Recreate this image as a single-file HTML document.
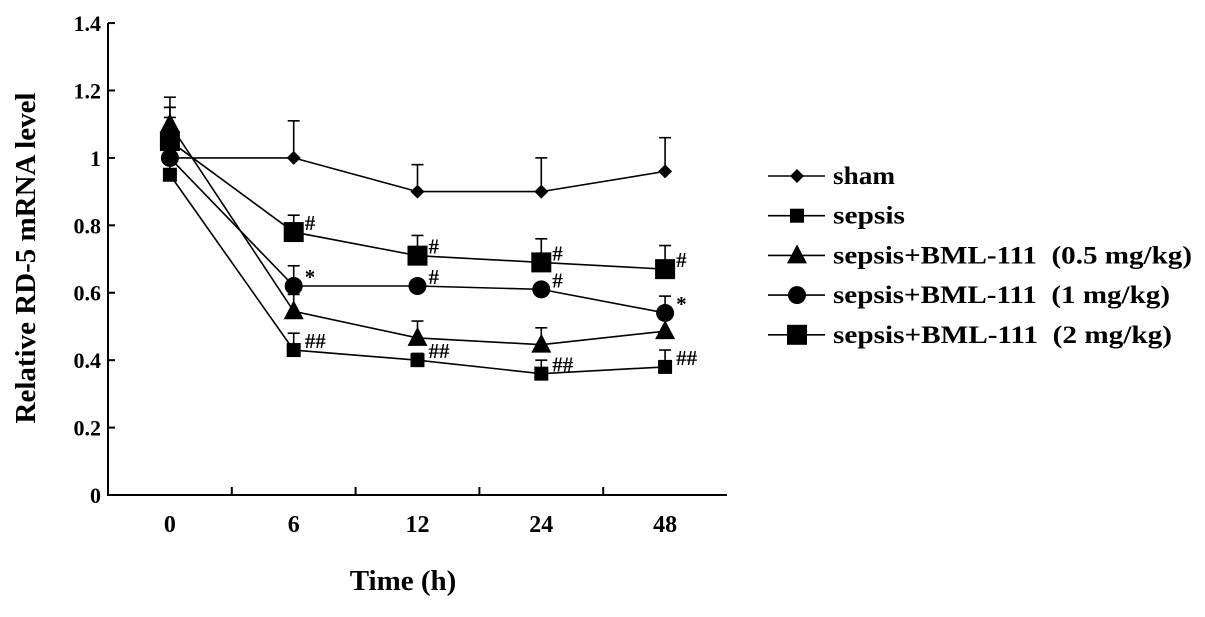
<!DOCTYPE html>
<html><head><meta charset="utf-8"><style>
body{margin:0;background:#fff;width:1205px;height:612px;overflow:hidden}
svg text{font-family:"Liberation Serif",serif;font-weight:bold;fill:#000}
</style></head><body>
<svg id="chart" width="1205" height="612" viewBox="0 0 1205 612" xmlns="http://www.w3.org/2000/svg"></svg>
<script>
const categories=["0","6","12","24","48"];
const yTicks=[0,0.2,0.4,0.6,0.8,1,1.2,1.4];
const seriesNames=["sham","sepsis","sepsis+BML-111  (0.5 mg/kg)","sepsis+BML-111  (1 mg/kg)","sepsis+BML-111  (2 mg/kg)"];
const shamVals=[1.0,1.0,0.90,0.90,0.96];
const shamErr=[0.18,0.11,0.08,0.10,0.10];
const sepsisVals=[0.95,0.43,0.40,0.36,0.38];
const sepsisErr=[0.05,0.05,0.02,0.04,0.05];
const bml05Vals=[1.10,0.545,0.466,0.446,0.486];
const bml05Err=[0.05,0.05,0.05,0.05,0];
const bml1Vals=[1.0,0.62,0.62,0.61,0.54];
const bml1Err=[0.12,0.06,0,0,0.05];
const bml2Vals=[1.05,0.78,0.71,0.69,0.67];
const bml2Err=[0.10,0.05,0.06,0.07,0.07];
const sepsisMarks=["","##","##","##","##"];
const bml1Marks=["","*","#","#","*"];
const bml2Marks=["","#","#","#","#"];
const series=[
 {vals:shamVals,err:shamErr,m:"diamond",marks:null},
 {vals:sepsisVals,err:sepsisErr,m:"smallsq",marks:sepsisMarks},
 {vals:bml05Vals,err:bml05Err,m:"tri",marks:null},
 {vals:bml1Vals,err:bml1Err,m:"circle",marks:bml1Marks},
 {vals:bml2Vals,err:bml2Err,m:"bigsq",marks:bml2Marks}];
const svg=document.getElementById('chart');
const NS="http://www.w3.org/2000/svg";
const X0=108,X1=727,Y0=495,YS=337.1;
const bw=(X1-X0)/categories.length;
const xs=i=>X0+bw*(i+0.5);
const ys=v=>Y0-v*YS;
function el(t,a,p){const e=document.createElementNS(NS,t);for(const k in a)e.setAttribute(k,a[k]);(p||svg).appendChild(e);return e;}
function marker(type,x,y,g){
 if(type==="diamond")return el('polygon',{points:`${x},${y-7} ${x+7},${y} ${x},${y+7} ${x-7},${y}`},g);
 if(type==="smallsq")return el('rect',{x:x-7,y:y-7,width:14,height:14},g);
 if(type==="bigsq")return el('rect',{x:x-10,y:y-10,width:20,height:20},g);
 if(type==="tri")return el('polygon',{points:`${x},${y-11} ${x+10},${y+8} ${x-10},${y+8}`},g);
 return el('circle',{cx:x,cy:y,r:9},g);
}
const ax=el('path',{d:`M${X0},${ys(1.4)}V${Y0}H${X1}`,stroke:'#000','stroke-width':2,fill:'none'});


yTicks.forEach(t=>{
 el('line',{x1:X0,x2:X0+7,y1:ys(t),y2:ys(t),stroke:'#000','stroke-width':2});
 const tx=el('text',{x:101,y:ys(t)+8,'text-anchor':'end','font-size':22});
 tx.textContent=String(t);
 
 
});
for(let i=1;i<categories.length;i++)el('line',{x1:X0+bw*i,x2:X0+bw*i,y1:Y0,y2:Y0-8,stroke:'#000','stroke-width':2});
categories.forEach((c,i)=>{
 const tx=el('text',{x:xs(i),y:532,'text-anchor':'middle','font-size':24});
 tx.textContent=c;
 
 
});
series.forEach((s,si)=>{
 const g=el('g',{fill:'#000',stroke:'#000'});
 
 
 el('polyline',{points:s.vals.map((v,i)=>xs(i)+','+ys(v)).join(' '),fill:'none','stroke-width':1.6},g);
 s.vals.forEach((v,i)=>{
  if(s.err[i]>0){
   el('line',{x1:xs(i),x2:xs(i),y1:ys(v),y2:ys(v+s.err[i]),'stroke-width':1.6},g);
   el('line',{x1:xs(i)-6,x2:xs(i)+6,y1:ys(v+s.err[i]),y2:ys(v+s.err[i]),'stroke-width':1.6},g);
  }
  const m=marker(s.m,xs(i),ys(v),g);m.setAttribute('stroke','none');
  if(s.marks&&s.marks[i]){
   const t=el('text',{x:xs(i)+11,y:ys(v)-2,'font-size':21,stroke:'none'},g);
   t.textContent=s.marks[i];
  }
 });
});
const legendLens=[62,72,359,337,339];
seriesNames.forEach((n,i)=>{
 const y=176+i*39.7;
 const g=el('g',{fill:'#000',stroke:'#000'});
 
 
 el('line',{x1:768,x2:825,y1:y,y2:y,'stroke-width':1.6},g);
 const m=marker(series[i].m,797,y,g);m.setAttribute('stroke','none');
 const t=el('text',{x:833,y:y+8,'font-size':25,stroke:'none',textLength:legendLens[i],lengthAdjust:'spacingAndGlyphs'},g);
 t.style.whiteSpace='pre';
 t.textContent=n;
});
const yt=el('text',{x:0,y:0,'text-anchor':'middle','font-size':29,transform:'translate(35,258) rotate(-90)'});
yt.textContent='Relative RD-5 mRNA level';


const xt=el('text',{x:403,y:590,'text-anchor':'middle','font-size':29});
xt.textContent='Time (h)';


</script>
</body></html>
